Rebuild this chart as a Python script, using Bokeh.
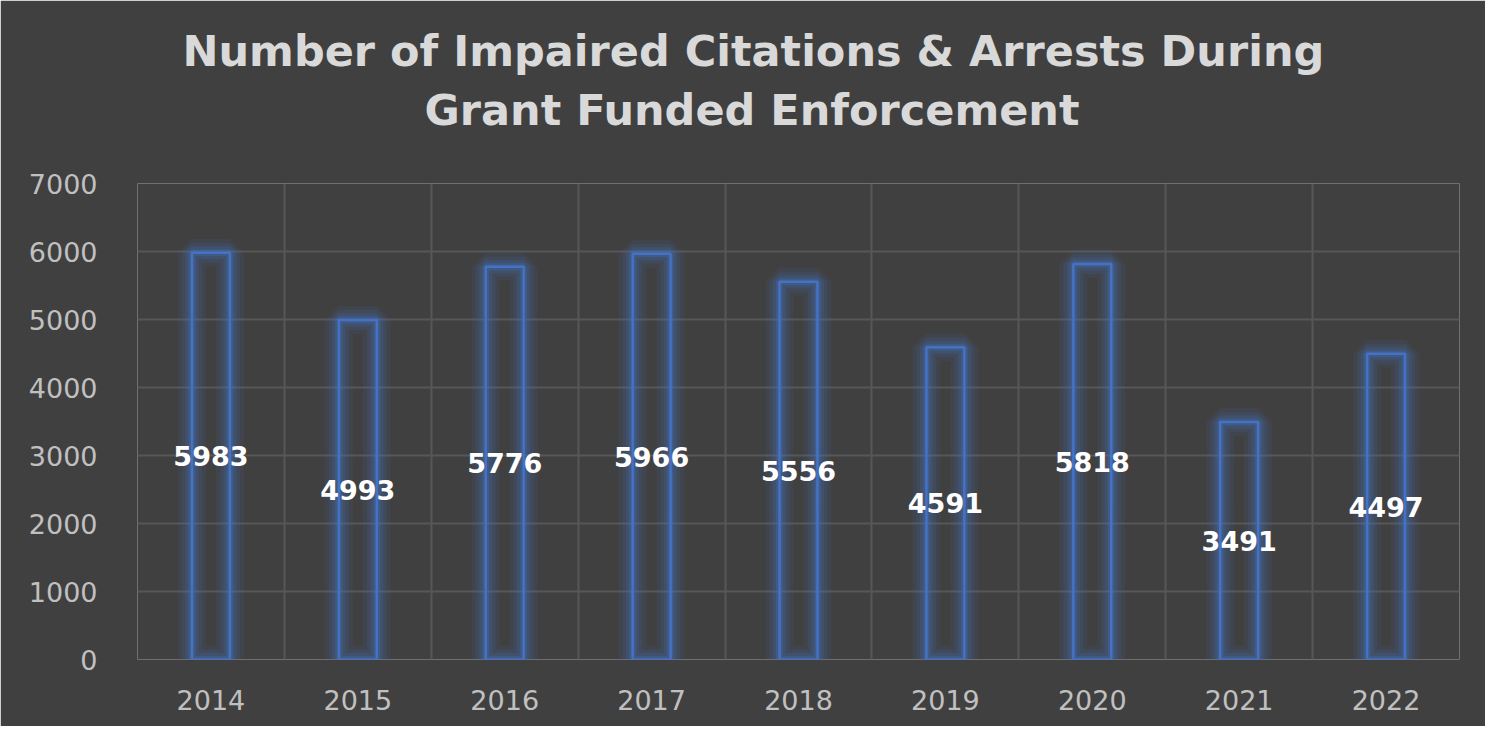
from bokeh.plotting import figure
from bokeh.models import Title, FixedTicker, ColumnDataSource, Range1d
from bokeh.embed import file_html
from bokeh.resources import INLINE

years = ["2014", "2015", "2016", "2017", "2018", "2019", "2020", "2021", "2022"]
values = [5983, 4993, 5776, 5966, 5556, 4591, 5818, 3491, 4497]
y_ticks = [0, 1000, 2000, 3000, 4000, 5000, 6000, 7000]
title_line1 = "Number of Impaired Citations & Arrests During"
title_line2 = "Grant Funded Enforcement"

BG = "#404040"
BLUE = "#4472C4"
GRID = "#575757"
TICK = "#c0c0c0"
TITLE = "#d9d9d9"

centers = [i + 0.5 for i in range(len(years))]
src = ColumnDataSource(dict(x=centers, top=values, mid=[v / 2 for v in values],
                            label=[str(v) for v in values]))

p = figure(width=1485, height=726, output_backend="svg", toolbar_location=None,
           title=None, x_range=Range1d(0, len(years)), y_range=Range1d(0, 7000),
           min_border_left=137, min_border_right=26, min_border_top=183,
           min_border_bottom=67)
p.background_fill_color = BG
p.border_fill_color = BG
p.outline_line_color = None

t2 = Title(text=title_line2, align="left", text_color=TITLE, text_font="DejaVu Sans",
           text_font_style="bold", text_font_size="43px", standoff=98, offset=287)
t1 = Title(text=title_line1, align="left", text_color=TITLE, text_font="DejaVu Sans",
           text_font_style="bold", text_font_size="43px", standoff=-84, offset=45)
p.add_layout(t2, "above")
p.add_layout(t1, "above")

# glow layers
for lw, a in [(28, 0.09), (20, 0.13), (13, 0.18), (7, 0.28)]:
    p.vbar(x="x", top="top", bottom=0, width=0.258, source=src, fill_color=None,
           line_color=BLUE, line_width=lw, line_alpha=a)
p.vbar(x="x", top="top", bottom=0, width=0.258, source=src, fill_color=None,
       line_color=BLUE, line_width=2.5)

p.text(x="x", y="mid", text="label", source=src, text_align="center",
       text_baseline="middle", text_color="white", text_font_style="bold",
       text_font_size="27px", text_font={"value": "DejaVu Sans"})

p.xaxis.ticker = FixedTicker(ticks=centers)
p.xaxis.major_label_overrides = {c: y for c, y in zip(centers, years)}
p.yaxis.ticker = FixedTicker(ticks=y_ticks)
p.xgrid.ticker = FixedTicker(ticks=list(range(len(years) + 1)))
p.ygrid.ticker = FixedTicker(ticks=y_ticks[1:])
for g in (p.xgrid, p.ygrid):
    g.grid_line_color = GRID
    g.grid_line_width = 2

for ax in (p.xaxis, p.yaxis):
    ax.axis_line_color = None
    ax.major_tick_line_color = None
    ax.minor_tick_line_color = None
    ax.major_label_text_color = TICK
    ax.major_label_text_font = "DejaVu Sans"
    ax.major_label_text_font_size = "27px"
p.yaxis.major_label_standoff = 34
p.xaxis.major_label_standoff = 24

open("out.html", "w").write(file_html(p, INLINE))
